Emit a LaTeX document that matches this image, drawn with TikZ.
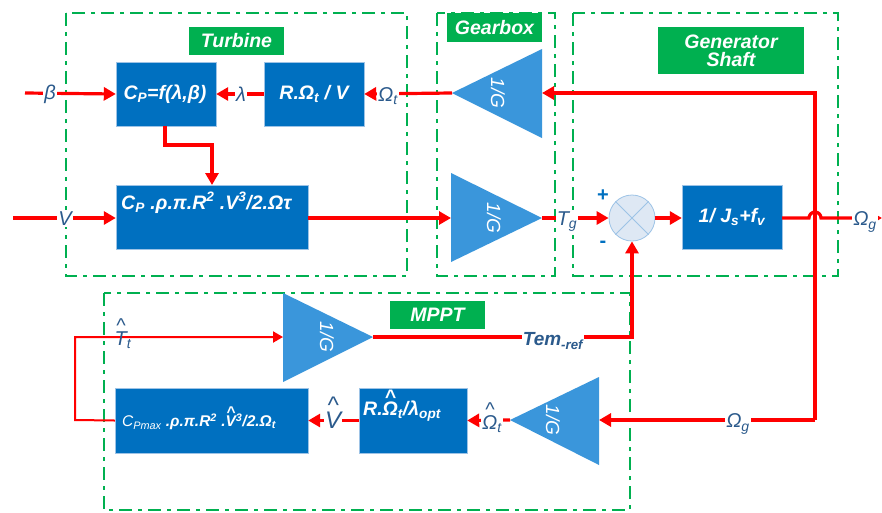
\documentclass[tikz,border=0pt]{standalone}
\usepackage{fontspec}
\setmainfont{Liberation Sans}
\usetikzlibrary{arrows.meta}
\definecolor{bx}{HTML}{0070C0}
\definecolor{trib}{HTML}{3A96DB}
\definecolor{grn}{HTML}{00B050}
\definecolor{lbl}{HTML}{2B5A8C}
\definecolor{sumf}{HTML}{DEE8F4}
\definecolor{sumd}{HTML}{9DC3E6}
\newcommand\hatof[1]{\ooalign{#1\cr\hidewidth\raisebox{0.62em}{\textasciicircum}\hidewidth\cr}}
\begin{document}
\begin{tikzpicture}[x=1pt,y=-1pt,
  blk/.style={fill=bx,draw=sumd,line width=0.4pt,inner sep=0pt},
  btxt/.style={text=white,font=\fontsize{19.5}{21}\selectfont\bfseries\itshape,inner sep=0pt},
  ttxt/.style={text=white,font=\fontsize{19}{21}\selectfont\itshape,rotate=-90,inner sep=0pt},
  tri/.style={fill=trib},
  grp/.style={draw=grn,line width=2.8pt,dash pattern=on 13pt off 6pt on 4pt off 6pt},
  glbl/.style={fill=grn,text=white,font=\fontsize{19.5}{21}\selectfont\bfseries\itshape,inner sep=0pt,align=center},
  sig/.style={text=lbl,font=\fontsize{20}{22}\selectfont\itshape,fill=white,inner sep=1pt},
  wire/.style={draw=red,line width=3.2pt},
  arr/.style={wire,-{Triangle[length=12pt,width=13pt]}},
]
\useasboundingbox (0,0) rectangle (882,512);
% group frames
\draw[grp] (66,13) rectangle (407,276);
\draw[grp] (437,13) rectangle (555,276);
\draw[grp] (573,13) rectangle (838,276);
\draw[grp] (104,293) rectangle (630,510);
% group labels
\node[glbl,minimum width=95pt,minimum height=28pt] (lt) at (236.5,41) {Turbine};
\node[glbl,minimum width=95pt,minimum height=29pt] (lg) at (494.5,27.5) {Gearbox};
\node[glbl,minimum width=146pt,minimum height=47pt] (ls) at (731,50.5) {Generator\\[-3pt]Shaft};
\node[glbl,minimum width=95pt,minimum height=28pt] (lm) at (437.5,315) {MPPT};
% turbine blocks
\node[blk,minimum width=100pt,minimum height=64pt] (cp) at (166,94) {};
\node[btxt] (cpt) at (165,94) {C\textsubscript{P}=f(λ,β)};
\node[blk,minimum width=100pt,minimum height=64pt] (rv) at (314,94) {};
\node[btxt] (rvt) at (314,94) {R.Ω\textsubscript{t} / V};
\node[blk,minimum width=192pt,minimum height=64pt] (tb) at (212,217) {};
\node[btxt,anchor=west] (tbt) at (121,203) {C\textsubscript{P} .ρ.π.R\textsuperscript{2} .V\textsuperscript{3}/2.Ωτ};
% gearbox triangles
\fill[tri] (542,49) -- (542,138) -- (452,93) -- cycle;
\coordinate (uga) at (452,93); \coordinate (ugb) at (542,93);
\node[ttxt] (ugt) at (498,93) {1/G};
\fill[tri] (451,173) -- (451,262) -- (542,218) -- cycle;
\coordinate (lga) at (542,218); \coordinate (lgb) at (451,218);
\node[ttxt] (lgt) at (494,218) {1/G};
% generator shaft
\node[circle,fill=sumf,draw=sumd,line width=0.8pt,minimum size=46pt,inner sep=0pt] (s) at (632,218) {};
\draw[sumd,line width=0.8pt] (s.north west) -- (s.south east) (s.north east) -- (s.south west);
\node[text=bx,font=\fontsize{20}{22}\selectfont\bfseries] (plus) at (603,196) {+};
\node[text=bx,font=\fontsize{20}{22}\selectfont\bfseries] (minus) at (603,244) {-};
\node[blk,minimum width=100pt,minimum height=64pt] (js) at (732,217) {};
\node[btxt] (jst) at (732,217) {1/ J\textsubscript{s}+f\textsubscript{v}};
% MPPT
\fill[tri] (283,293) -- (283,382) -- (373,337) -- cycle;
\coordinate (mua) at (373,337); \coordinate (mub) at (283,337);
\node[ttxt] (mut) at (327,337) {1/G};
\fill[tri] (599,377) -- (599,465) -- (510,420) -- cycle;
\coordinate (mla) at (510,420); \coordinate (mlb) at (599,420);
\node[ttxt] (mlt) at (553,420) {1/G};
\node[blk,minimum width=193pt,minimum height=65pt] (cm) at (211.5,420.5) {};
\node[text=white,font=\fontsize{15.5}{17}\selectfont\itshape,inner sep=0pt,anchor=west] (cmt) at (122,422) {C\textsubscript{Pmax} \textbf{.ρ.π.R\textsuperscript{2} .\hatof{V}\textsuperscript{3}/2.Ω\textsubscript{t}}};
\node[blk,minimum width=108pt,minimum height=65pt] (ro) at (413,420.5) {};
\node[btxt,anchor=west] (rot) at (363,411) {R.\hatof{Ω}\textsubscript{t}/λ\textsubscript{opt}};
% wires
\coordinate (bin) at (25,93);
\draw[arr] (bin) -- (cp.west);
\node[sig] (lb) at (50,94) {β};
\draw[arr] (uga) -- (rv.east);
\node[sig] (lo) at (388,96) {Ω\textsubscript{t}};
\draw[arr] (rv.west) -- (cp.east);
\node[sig] (ll) at (241,94) {λ};
\draw[arr] (165,126) -- (165,145) -- (212,145) -- (212,185);
\coordinate (vin) at (13,218);
\draw[arr] (vin) -- (tb.west |- 0,218);
\node[sig] (lv) at (65,219) {V};
\draw[arr] (tb.east |- 0,218) -- (lgb);
\draw[arr] (lga) -- (s.west);
\node[sig] (ltg) at (567,222) {T\textsubscript{g}};
\draw[arr] (s.east) -- (js.west |- 0,218);
\coordinate (out) at (882,218);
\draw[arr] (js.east |- 0,218) -- (809,218) arc[start angle=180,end angle=0,radius=6pt] -- (out);
\node[sig] (log) at (865,222) {Ω\textsubscript{g}};
\coordinate (fb) at (815,420);
\draw[arr] (fb) -- (815,93) -- (ugb);
\draw[arr] (fb) -- (mlb);
\node[sig] (log2) at (738,424) {Ω\textsubscript{g}};
\draw[arr] (mla) -- (ro.east);
\node[sig] (loh) at (492,424) {\hatof{Ω}\textsubscript{t}};
\draw[arr] (ro.west) -- (cm.east);
\node[sig,font=\fontsize{24}{26}\selectfont\itshape] (lvh) at (333,420) {\hatof{V}};
\draw[draw=red,line width=2pt,-{Triangle[length=10pt,width=11pt]}] (cm.west) -- (75,420) -- (75,337) -- (mub);
\node[sig,fill=none,font=\fontsize{20}{22}\selectfont\itshape] (ltt) at (123,340) {\hatof{T}\textsubscript{t}};
\draw[arr] (mua) -- (632,337) -- (s.south);
\node[sig,font=\fontsize{19}{21}\selectfont\bfseries\itshape] (ltr) at (553,341) {Tem\textsubscript{-ref}};
\end{tikzpicture}
\end{document}
